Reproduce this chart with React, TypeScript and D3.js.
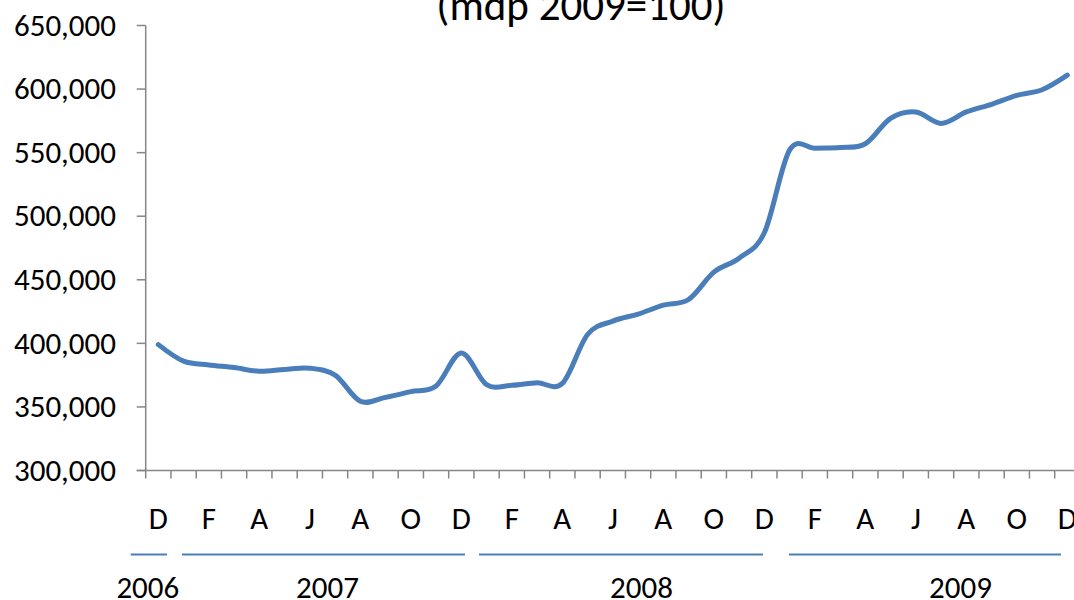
import React from "react";
import * as d3 from "d3";

const monthLetters = ["D","J","F","M","A","M","J","J","A","S","O","N","D","J","F","M","A","M","J","J","A","S","O","N","D","J","F","M","A","M","J","J","A","S","O","N","D"];
const values = [
  399000, 386000, 383000, 381000, 378000, 379500, 380500, 375000, 354500, 357500, 362000, 366500, 392500,
  367500, 367000, 369000, 368500, 407000, 417500, 423000, 430000, 434500, 456000, 467000, 487000,
  552000, 553500, 554000, 557000, 577000, 582000, 573000, 582000, 588000, 595000, 599500, 611000,
];
const yearLabels = ["2006", "2007", "2008", "2009"];
const yearStart = [0, 1, 13, 25];
const yearEnd = [0, 12, 24, 36];
const yTicks = [300000, 350000, 400000, 450000, 500000, 550000, 600000, 650000];
const title = "(mdp 2009=100)";

const FONT = "Carlito, Calibri, Lato, sans-serif";

export default function App() {
  const W = 1074, H = 600;
  const idx = values.map((_, i) => i);
  const x = d3.scaleBand<number>().domain(idx).range([145.7, 145.7 + 25.25 * values.length]).padding(0);
  const bw = x.bandwidth();
  const cx = (i: number) => (x(i) as number) + bw / 2;
  const y = d3.scaleLinear().domain([300000, 650000]).range([470.5, 25.5]);
  const fmt = d3.format(",");
  const line = d3.line<number>().x((_, i) => cx(i)).y((d) => y(d)).curve(d3.curveCardinal.tension(0));
  const axisColor = "#868686";
  const blue = "#4A7EBB";
  const x0 = x(0) as number;
  const boundaries = d3.range(values.length + 1).map((k) => x0 + k * bw);
  const labelShift = [-10.5, 5, 16, 32];
  const segInset = [[-15, 4], [11, 9], [5, 14], [12, 19]];

  return (
    <svg width={W} height={H} style={{ position: "absolute", left: 0, top: 0, background: "#fff" }}>
      <text x={581} y={20} textAnchor="middle" fontFamily={FONT} fontSize={43} fill="#000">{title}</text>
      {/* y axis */}
      <line x1={x0} x2={x0} y1={y(650000)} y2={y(300000)} stroke={axisColor} strokeWidth={1.5} />
      {yTicks.map((t) => (
        <g key={t}>
          <line x1={x0 - 9} x2={x0} y1={y(t)} y2={y(t)} stroke={axisColor} strokeWidth={1.5} />
          <text x={116} y={y(t)} dy="0.33em" textAnchor="end" fontFamily={FONT} fontSize={31} fill="#000">{fmt(t)}</text>
        </g>
      ))}
      {/* x axis */}
      <line x1={x0 - 9} x2={W} y1={y(300000)} y2={y(300000)} stroke={axisColor} strokeWidth={1.5} />
      {boundaries.map((b, k) => (
        <line key={k} x1={b} x2={b} y1={y(300000)} y2={y(300000) + 8} stroke={axisColor} strokeWidth={1.5} />
      ))}
      {monthLetters.map((m, i) => i % 2 === 0 ? (
        <text key={i} x={cx(i)} y={529} textAnchor="middle" fontFamily={FONT} fontSize={31} fill="#000">{m}</text>
      ) : null)}
      {yearLabels.map((yl, k) => {
        const s = x(yearStart[k]) as number;
        const e = (x(yearEnd[k]) as number) + bw;
        const x1 = s + segInset[k][0];
        const x2 = e - segInset[k][1];
        const mid = (s + e) / 2 + labelShift[k];
        return (
          <g key={yl}>
            <line x1={x1} x2={x2} y1={554.5} y2={554.5} stroke={blue} strokeWidth={2} />
            <text x={mid} y={598} textAnchor="middle" fontFamily={FONT} fontSize={31} fill="#000">{yl}</text>
          </g>
        );
      })}
      <path d={line(values) || ""} fill="none" stroke={blue} strokeWidth={5} strokeLinecap="round" strokeLinejoin="round" />
    </svg>
  );
}
